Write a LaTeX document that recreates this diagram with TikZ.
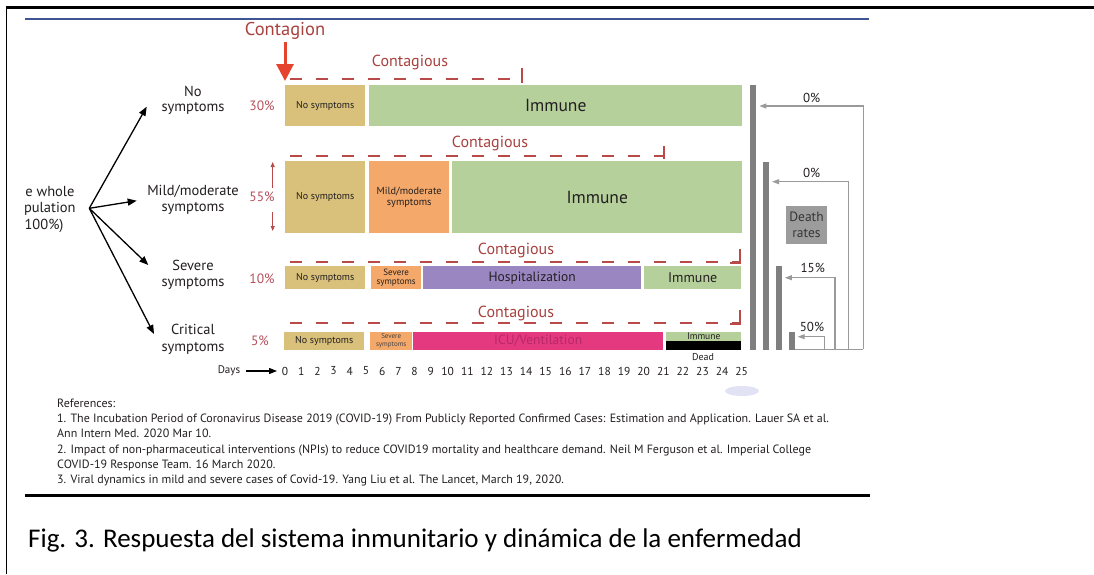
\documentclass[tikz,border=0pt]{standalone}
\usepackage{fontspec}
\setmainfont{PT Sans}
\newfontfamily\capfont{Carlito}
\usetikzlibrary{arrows.meta}
\newcommand\fsz[2]{\fontsize{#1pt}{#2pt}\selectfont}
\definecolor{nosym}{HTML}{D9C17B}
\definecolor{mild}{HTML}{F4A96A}
\definecolor{immune}{HTML}{B6D09C}
\definecolor{hosp}{HTML}{9A87C2}
\definecolor{icu}{HTML}{E4397F}
\definecolor{icutext}{HTML}{B8286A}
\definecolor{redd}{HTML}{B84B4A}
\definecolor{redt}{HTML}{A8423F}
\definecolor{pct}{HTML}{B5505A}
\definecolor{redarr}{HTML}{E5432D}
\definecolor{barg}{HTML}{7F7F7F}
\definecolor{lineg}{HTML}{9A9A9A}
\definecolor{boxg}{HTML}{9C9C9C}
\definecolor{txt}{HTML}{231F20}
\definecolor{blueline}{HTML}{3F5495}
\definecolor{smudge}{HTML}{E2E2F5}
\begin{document}
\begin{tikzpicture}[x=1pt,y=-1pt,
  box/.style={draw=none, inner sep=0pt, anchor=north west, text=txt, align=center},
  lab/.style={inner sep=0pt, text=txt, align=center},
  cline/.style={draw=redd, line width=1.8pt, dash pattern=on 12pt off 14pt},
  tickline/.style={draw=redd, line width=1.8pt},
  blkarrow/.style={draw=black, line width=1.3pt, -{Triangle[length=9pt,width=7pt]}},
  redarrow/.style={draw=redarr, line width=3pt, -{Triangle[length=17pt,width=17pt]}},
  pctarrow/.style={draw=redd, line width=0.8pt, -{Triangle[length=5pt,width=4pt]}},
  garrow/.style={draw=lineg, line width=1.1pt, -{Triangle[length=7pt,width=5pt]}, shorten >=3pt},
  gline/.style={draw=lineg, line width=1.1pt},
  bar/.style={fill=barg, draw=none, inner sep=0pt, anchor=north west, minimum width=6pt}
]
\useasboundingbox (0,0) rectangle (1094,574);
\fill[white] (0,0) rectangle (1094,574);
% frame
\draw[line width=2.6pt] (6,7.5) -- (1094,7.5);
\draw[line width=1.6pt] (6.3,7) -- (6.3,574);
\draw[blueline, line width=2.2pt] (25,19) -- (869,19);

% population
\begin{scope}
\clip (25,150) rectangle (130,250);
\node[lab, font=\fsz{14.5}{16.6}] (pop) at (42,209.5) {The whole\\population\\(100\%)};
\end{scope}
\coordinate (fork) at (89.3,208.3);
\coordinate (t1) at (146.7,106.7);
\coordinate (t2) at (136.7,200.7);
\coordinate (t3) at (148.3,265);
\coordinate (t4) at (154,334);
\draw[blkarrow] (fork) -- (t1);
\draw[blkarrow] (fork) -- (t2);
\draw[blkarrow] (fork) -- (t3);
\draw[blkarrow] (fork) -- (t4);

% category labels
\node[lab, font=\fsz{14.5}{15.5}] (c1) at (193,100.5) {No\\symptoms};
\node[lab, font=\fsz{14.5}{16}] (c2) at (193,199.7) {Mild/moderate\\symptoms};
\node[lab, font=\fsz{14.5}{16}] (c3) at (193,274.7) {Severe\\symptoms};
\node[lab, font=\fsz{14.5}{17}] (c4) at (193,339) {Critical\\symptoms};

% percentages
\node[lab, text=pct, font=\fsz{13.5}{14}] (p1) at (262,106) {30\%};
\node[lab, text=pct, font=\fsz{13.5}{14}] (p2) at (262,196.7) {55\%};
\node[lab, text=pct, font=\fsz{13.5}{14}] (p3) at (262,279) {10\%};
\node[lab, text=pct, font=\fsz{13.5}{14}] (p4) at (260,341) {5\%};
\coordinate (u1) at (272.7,188); \coordinate (u2) at (272.7,162);
\coordinate (w1) at (272.7,212); \coordinate (w2) at (272.7,231);
\draw[pctarrow] (u1) -- (u2);
\draw[pctarrow] (w1) -- (w2);

% contagion
\node[lab, text=redt, font=\fsz{18.5}{18.5}] (contagion) at (285,31) {Contagion};
\coordinate (cb) at (285,81);
\draw[redarrow] (contagion.south) ++(0,2) -- (cb);

% row 1
\node[box, fill=nosym, minimum width=80pt, minimum height=41pt, font=\fsz{10}{11}] (r1a) at (285,85) {No symptoms};
\node[box, fill=immune, minimum width=373pt, minimum height=41pt, font=\fsz{17.5}{18}] (r1b) at (369,85) {Immune};
% row 2
\node[box, fill=nosym, minimum width=80pt, minimum height=72pt, font=\fsz{10}{11}] (r2a) at (285,161) {No symptoms};
\node[box, fill=mild, minimum width=80pt, minimum height=72pt, font=\fsz{10.3}{11.5}] (r2b) at (369,161) {Mild/moderate\\symptoms};
\node[box, fill=immune, minimum width=290pt, minimum height=72pt, font=\fsz{17.5}{18}] (r2c) at (452,161) {Immune};
% row 3
\node[box, fill=nosym, minimum width=80pt, minimum height=23pt, font=\fsz{10}{11}] (r3a) at (285,266) {No symptoms};
\node[box, fill=mild, minimum width=50pt, minimum height=23pt, font=\fsz{9}{9.5}] (r3b) at (371,266) {Severe\\symptoms};
\node[box, fill=hosp, minimum width=218pt, minimum height=23pt, font=\fsz{13.5}{14}] (r3c) at (423,266) {Hospitalization};
\node[box, fill=immune, minimum width=97pt, minimum height=23pt, font=\fsz{14}{14}] (r3d) at (644,266) {Immune};
% row 4
\node[box, fill=nosym, minimum width=80pt, minimum height=17.5pt, font=\fsz{10}{11}] (r4a) at (284,332) {No symptoms};
\node[box, fill=mild, minimum width=42pt, minimum height=17.5pt, font=\fsz{7}{7.5}, text=txt!85] (r4b) at (370,332) {Severe\\symptoms};
\node[box, fill=icu, minimum width=250pt, minimum height=17.5pt, font=\fsz{13.5}{14}, text=icutext] (r4c) at (413,332) {ICU/Ventilation};
\node[box, fill=immune, minimum width=75pt, minimum height=8.5pt] (r4d) at (666,332) {};
\node[lab, font=\fsz{9.5}{10}] (r4dt) at (r4d.center) {Immune};
\node[box, fill=black, minimum width=75pt, minimum height=9pt] (r4e) at (666,340.5) {};
\node[lab, font=\fsz{10}{10}] (dead) at (703,357) {Dead};

% contagious periods
\node[lab, text=redt, font=\fsz{16}{16}] (k1l) at (410,62) {Contagious};
\node[lab, text=redt, font=\fsz{16}{16}] (k2l) at (490,143) {Contagious};
\node[lab, text=redt, font=\fsz{16}{16}] (k3l) at (516,250) {Contagious};
\node[lab, text=redt, font=\fsz{16}{16}] (k4l) at (516,313) {Contagious};
\coordinate (d1s) at (290,79);  \coordinate (d1e) at (522,79);
\coordinate (d2s) at (290,156); \coordinate (d2e) at (664,156);
\coordinate (d3s) at (290,262); \coordinate (d3e) at (740,262);
\coordinate (d4s) at (290,323); \coordinate (d4e) at (740,323);
\draw[cline] (d1s) -- (d1e);
\draw[cline] (d2s) -- (d2e);
\draw[cline] (d3s) -- (d3e);
\draw[cline] (d4s) -- (d4e);
\draw[tickline] (d1e) ++(0,-11) -- ++(0,15);
\draw[tickline] (d2e) ++(0,-10) -- ++(0,13);
\draw[tickline] (d3e) ++(0,-13) -- ++(0,13.9) -- ++(-10,0);
\draw[tickline] (d4e) ++(0,-13) -- ++(0,13.9) -- ++(-10,0);

% days axis
\node[lab, font=\fsz{11}{11}] (days) at (229,371) {Days};
\coordinate (d0) at (277,371);
\draw[draw=black, line width=1.1pt, -{Triangle[length=8pt,width=6pt]}] (days.east) ++(6,0) -- (d0);
\foreach \d in {0,...,9} {
  \node[lab, font=\fsz{11.5}{11.5}] (n\d) at (285+16.2*\d,371) {\d};
}
\foreach \d in {10,...,25} {
  \node[lab, font=\fsz{11.5}{11.5}] (n\d) at (447.7+19.6*\d-196,371) {\d};
}

% death-rate bars
\node[bar, minimum height=265pt] (bar1) at (750,85) {};
\node[bar, minimum height=188.3pt] (bar2) at (762.7,161.7) {};
\node[bar, minimum height=84pt] (bar3) at (775.5,266) {};
\node[bar, minimum height=18.3pt] (bar4) at (788.3,331.7) {};
\coordinate (base) at (863.3,349.3);
\coordinate (q1) at (863.3,106);
\coordinate (q2) at (848.3,181.7);
\coordinate (q3) at (835,277.7);
\coordinate (q4) at (824.3,336.7);
\draw[gline] (bar4.east |- base) -- (base);
\draw[garrow] (base) -- (q1) -- (q1 -| bar1.east);
\draw[garrow] (q2 |- base) -- (q2) -- (q2 -| bar2.east);
\draw[garrow] (q3 |- base) -- (q3) -- (q3 -| bar3.east);
\draw[garrow] (q4 |- base) -- (q4) -- (q4 -| bar4.east);
\node[lab, font=\fsz{13}{13}] (g1) at (811.7,97.7) {0\%};
\node[lab, font=\fsz{13}{13}] (g2) at (811.7,172.7) {0\%};
\node[lab, font=\fsz{13}{13}] (g3) at (812.7,268.3) {15\%};
\node[lab, font=\fsz{13}{13}] (g4) at (812,326.7) {50\%};
\node[fill=boxg, inner sep=0pt, minimum width=41.6pt, minimum height=38.6pt, align=center, text=txt!90, font=\fsz{13.5}{15.5}] (dr) at (806.5,225) {Death\\rates};

% smudge
\fill[smudge] (742,391) ellipse (17 and 5);

% references
\node[lab, anchor=base west, font=\fsz{12}{12}] (ref0) at (57,407) {References:};
\node[lab, anchor=base west, font=\fsz{12}{12}] (ref1) at (57,422.3) {1. The Incubation Period of Coronavirus Disease 2019 (COVID-19) From Publicly Reported Confirmed Cases: Estimation and Application. Lauer SA et al.};
\node[lab, anchor=base west, font=\fsz{12}{12}] (ref2) at (57,437.6) {Ann Intern Med. 2020 Mar 10.};
\node[lab, anchor=base west, font=\fsz{12}{12}] (ref3) at (57,453) {2. Impact of non-pharmaceutical interventions (NPIs) to reduce COVID19 mortality and healthcare demand. Neil M Ferguson et al. Imperial College};
\node[lab, anchor=base west, font=\fsz{12}{12}] (ref4) at (57,468.3) {COVID-19 Response Team. 16 March 2020.};
\node[lab, anchor=base west, font=\fsz{12}{12}] (ref5) at (57,483.6) {3. Viral dynamics in mild and severe cases of Covid-19. Yang Liu et al. The Lancet, March 19, 2020.};
\draw[line width=3pt] (25,495) -- (870,495);

% caption
\node[lab, anchor=base west, font=\capfont\fsz{27}{27}, text=black] (cap) at (28,547) {Fig. 3. Respuesta del sistema inmunitario y dinámica de la enfermedad};
\end{tikzpicture}
\end{document}
